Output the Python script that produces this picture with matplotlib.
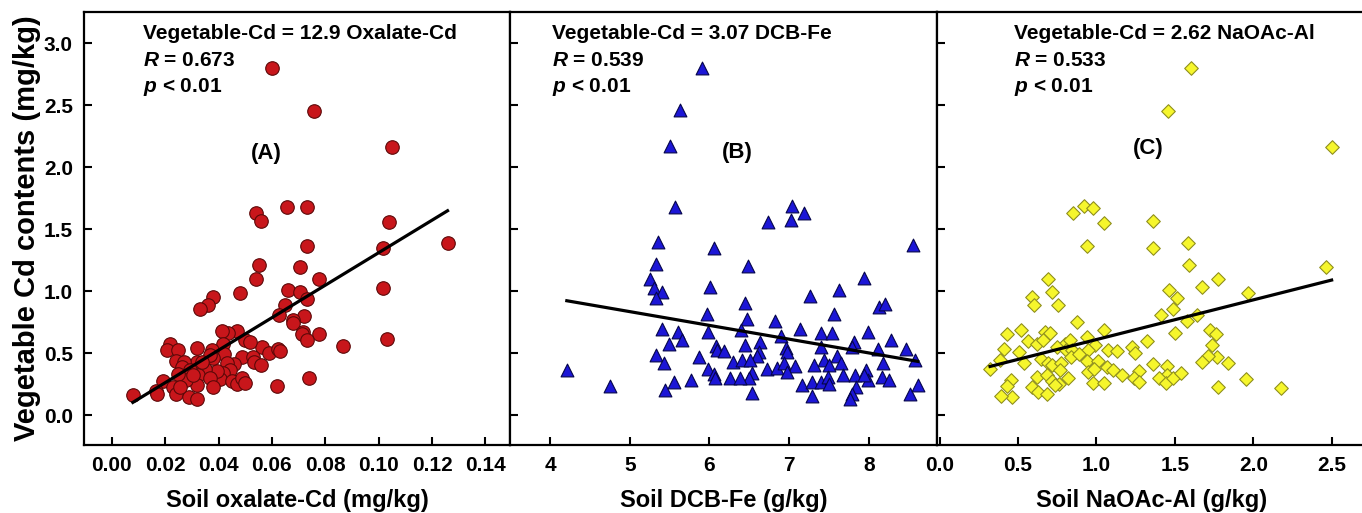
import matplotlib
matplotlib.use('Agg')
import matplotlib.pyplot as plt
import numpy as np

plt.rcParams['font.family'] = ['Liberation Sans', 'DejaVu Sans']
plt.rcParams['font.weight'] = 'bold'
plt.rcParams['mathtext.fontset'] = 'custom'
plt.rcParams['mathtext.it'] = 'Liberation Sans:italic:bold'
plt.rcParams['mathtext.rm'] = 'Liberation Sans:bold'

# panel A: soil oxalate-Cd (mg/kg) vs vegetable Cd (mg/kg)
oxalate_cd = [0.0600, 0.0759, 0.1049, 0.0539, 0.0559, 0.0658, 0.0730, 0.1040, 0.0730, 0.1017, 0.1258,
              0.0552, 0.0539, 0.0705, 0.0778, 0.0481, 0.0381, 0.0360, 0.0331, 0.0659, 0.0705, 0.0730,
              0.0649, 0.0628, 0.0720, 0.0678, 0.0680, 0.1017, 0.1030, 0.0778, 0.0718, 0.0712, 0.0730,
              0.0868, 0.0739, 0.0618, 0.0562, 0.0589, 0.0622, 0.0630, 0.0499, 0.0518, 0.0468, 0.0434,
              0.0414, 0.0418, 0.0421, 0.0489, 0.0528, 0.0533, 0.0559, 0.0458, 0.0431, 0.0443, 0.0418,
              0.0406, 0.0393, 0.0375, 0.0381, 0.0368, 0.0318, 0.0318, 0.0350, 0.0324, 0.0318, 0.0368,
              0.0378, 0.0449, 0.0468, 0.0489, 0.0499, 0.0218, 0.0208, 0.0250, 0.0241, 0.0271, 0.0262,
              0.0293, 0.0278, 0.0250, 0.0191, 0.0228, 0.0241, 0.0166, 0.0171, 0.0079, 0.0291, 0.0321,
              0.0256, 0.0306, 0.0337]
veg_cd_a = [2.800, 2.454, 2.164, 1.626, 1.567, 1.680, 1.675, 1.556, 1.366, 1.344, 1.392,
            1.210, 1.094, 1.191, 1.094, 0.989, 0.954, 0.887, 0.855, 1.008, 0.995, 0.933,
            0.887, 0.806, 0.801, 0.766, 0.745, 1.027, 0.618, 0.653, 0.672, 0.653, 0.605,
            0.559, 0.296, 0.237, 0.551, 0.505, 0.530, 0.519, 0.605, 0.591, 0.677, 0.664,
            0.677, 0.578, 0.497, 0.470, 0.470, 0.430, 0.403, 0.411, 0.422, 0.368, 0.341,
            0.288, 0.358, 0.524, 0.465, 0.484, 0.538, 0.430, 0.376, 0.323, 0.242, 0.296,
            0.228, 0.274, 0.255, 0.301, 0.261, 0.573, 0.524, 0.524, 0.435, 0.430, 0.390,
            0.363, 0.282, 0.336, 0.274, 0.228, 0.175, 0.196, 0.169, 0.167, 0.148, 0.129,
            0.228, 0.323, 0.430]

# panel B: soil DCB-Fe (g/kg)
dcb_fe = [5.908, 5.627, 5.509, 5.572, 7.040, 7.187, 7.019, 6.738, 5.354, 6.055, 8.558,
          5.329, 6.482, 5.249, 5.300, 5.405, 5.333, 6.004, 7.933, 7.627, 7.258, 8.130,
          8.205, 6.440, 6.474, 5.971, 7.564, 6.818, 5.405, 5.606, 5.656, 5.488, 5.983,
          6.390, 6.445, 6.088, 6.096, 6.180, 6.633, 6.620, 6.600, 6.893, 6.956, 6.977,
          7.132, 7.405, 7.543, 7.396, 7.983, 8.277, 7.815, 7.794, 8.109, 8.465, 8.583,
          8.172, 7.606, 7.648, 7.438, 7.501, 7.312, 5.866, 5.329, 5.426, 5.983, 6.054,
          6.075, 6.298, 6.411, 6.507, 6.537, 6.495, 6.256, 6.382, 6.725, 6.843, 6.935,
          7.073, 6.969, 4.210, 4.746, 5.447, 5.551, 5.774, 6.528, 7.166, 7.283, 7.291,
          7.396, 7.488, 7.501, 7.677, 7.828, 7.962, 7.983, 7.836, 7.794, 7.765, 8.164,
          8.247, 8.520, 8.612, 7.941]
veg_cd_b = [2.796, 2.460, 2.172, 1.680, 1.685, 1.632, 1.573, 1.559, 1.398, 1.344, 1.376,
            1.218, 1.202, 1.094, 1.022, 0.995, 0.941, 1.030, 1.102, 1.008, 0.960, 0.874,
            0.895, 0.901, 0.774, 0.812, 0.812, 0.758, 0.691, 0.667, 0.610, 0.573, 0.672,
            0.685, 0.570, 0.556, 0.524, 0.516, 0.591, 0.511, 0.476, 0.637, 0.538, 0.511,
            0.694, 0.659, 0.659, 0.551, 0.672, 0.610, 0.591, 0.551, 0.530, 0.530, 0.444,
            0.417, 0.476, 0.417, 0.444, 0.403, 0.403, 0.470, 0.484, 0.417, 0.371, 0.336,
            0.296, 0.430, 0.444, 0.444, 0.341, 0.296, 0.304, 0.304, 0.376, 0.384, 0.417,
            0.395, 0.349, 0.363, 0.234, 0.202, 0.269, 0.282, 0.180, 0.242, 0.156, 0.269,
            0.269, 0.309, 0.255, 0.323, 0.323, 0.368, 0.282, 0.228, 0.175, 0.134, 0.309,
            0.282, 0.169, 0.242, 0.323]

# panel C: soil NaOAc-Al (g/kg)
naoac_al = [1.600, 1.457, 2.498, 0.852, 0.920, 0.980, 1.050, 1.362, 0.942, 1.358, 1.585,
            1.589, 2.460, 0.689, 1.776, 1.670, 1.464, 0.719, 1.967, 0.587, 1.511, 0.601,
            0.757, 1.490, 1.411, 1.638, 1.574, 0.874, 0.519, 0.428, 0.672, 0.704, 1.048,
            1.500, 1.723, 1.761, 0.942, 0.562, 0.619, 0.662, 1.324, 0.800, 0.831, 0.990,
            0.413, 0.507, 0.746, 0.804, 0.842, 0.948, 1.075, 1.128, 1.224, 1.246, 1.734,
            1.766, 1.708, 1.670, 1.840, 0.385, 0.322, 0.540, 0.647, 0.689, 0.719, 0.774,
            0.768, 0.838, 0.891, 0.937, 0.948, 1.012, 0.986, 1.065, 1.108, 1.160, 1.271,
            1.239, 1.273, 1.362, 1.447, 1.447, 1.398, 1.443, 1.485, 1.536, 0.456, 0.428,
            0.460, 0.392, 0.591, 0.619, 0.630, 0.683, 0.683, 0.714, 0.761, 0.816, 0.980,
            1.048, 1.772, 1.950, 2.173, 0.736]
veg_cd_c = [2.796, 2.454, 2.164, 1.626, 1.688, 1.672, 1.551, 1.567, 1.363, 1.344, 1.392,
            1.210, 1.191, 1.094, 1.094, 1.030, 1.008, 0.995, 0.987, 0.954, 0.941, 0.887,
            0.887, 0.860, 0.806, 0.806, 0.761, 0.753, 0.685, 0.651, 0.672, 0.659, 0.685,
            0.659, 0.685, 0.651, 0.632, 0.599, 0.578, 0.605, 0.599, 0.578, 0.610, 0.565,
            0.530, 0.511, 0.551, 0.524, 0.524, 0.524, 0.524, 0.519, 0.551, 0.503, 0.565,
            0.470, 0.476, 0.430, 0.417, 0.449, 0.376, 0.417, 0.457, 0.417, 0.403, 0.422,
            0.363, 0.470, 0.497, 0.438, 0.349, 0.438, 0.376, 0.390, 0.368, 0.323, 0.358,
            0.296, 0.269, 0.409, 0.395, 0.323, 0.296, 0.261, 0.301, 0.341, 0.282, 0.234,
            0.148, 0.153, 0.228, 0.309, 0.188, 0.175, 0.323, 0.274, 0.255, 0.301, 0.261,
            0.261, 0.228, 0.288, 0.220, 0.242]

# fitted lines (slope, intercept)
fit_a = (13.1, 0.0)
fit_b = (-0.111, 1.39)
fit_c = (0.32, 0.29)

equations = ['Vegetable-Cd = 12.9 Oxalate-Cd',
             'Vegetable-Cd = 3.07 DCB-Fe',
             'Vegetable-Cd = 2.62 NaOAc-Al']
r_values = ['0.673', '0.539', '0.533']
panel_tags = ['(A)', '(B)', '(C)']
x_labels = ['Soil oxalate-Cd (mg/kg)', 'Soil DCB-Fe (g/kg)', 'Soil NaOAc-Al (g/kg)']

W, H = 1362, 513
fig = plt.figure(figsize=(W / 100, H / 100), dpi=100)


def px_axes(x0, x1, y0=12, y1=445):
    return fig.add_axes([x0 / W, 1 - y1 / H, (x1 - x0) / W, (y1 - y0) / H])


axA = px_axes(84, 510)
axB = px_axes(510, 937)
axC = px_axes(937, 1366)

panels = [
    (axA, oxalate_cd, veg_cd_a, fit_a, 'o', 95, '#c8161b', '#5c0808', (-0.0104, 0.1492),
     np.arange(0, 0.141, 0.02), '%.2f', 0.138, (0.058, 2.11)),
    (axB, dcb_fe, veg_cd_b, fit_b, '^', 85, '#1c16d6', '#05054a', (3.497, 8.855),
     [4, 5, 6, 7, 8], '%d', 0.098, (6.35, 2.12)),
    (axC, naoac_al, veg_cd_c, fit_c, 'D', 48, '#f6f62c', '#8f8f1e', (-0.016, 2.717),
     np.arange(0, 2.51, 0.5), '%.1f', 0.179, (1.33, 2.15)),
]

for i, (ax, xs, ys, fit, mk, sz, fc, ec, xlim, xt, fmt, tx, tag_pos) in enumerate(panels):
    ax.scatter(xs, ys, marker=mk, s=sz, facecolor=fc, edgecolor=ec, linewidth=0.8, zorder=3)
    xx = np.array([min(xs), max(xs)])
    ax.plot(xx, fit[0] * xx + fit[1], color='black', lw=2.3, zorder=4)
    ax.set_xlim(*xlim)
    ax.set_ylim(-0.24, 3.25)
    ax.set_xticks(xt)
    ax.set_xticklabels([fmt % v for v in xt])
    ax.set_yticks(np.arange(0, 3.01, 0.5))
    ax.tick_params(direction='in', length=6, width=1.5, labelsize=15, pad=8)
    if i > 0:
        ax.tick_params(axis='y', labelleft=False)
    else:
        ax.set_yticklabels(['%.1f' % v for v in np.arange(0, 3.01, 0.5)])
    for sp in ax.spines.values():
        sp.set_linewidth(1.6)
    ax.set_xlabel(x_labels[i], fontsize=17, fontweight='bold', labelpad=10)
    ax.text(tx, 0.9515, equations[i], transform=ax.transAxes, fontsize=15,
            fontweight='bold', va='center', ha='left')
    ax.text(tx, 0.889, r'$R$ = ' + r_values[i], transform=ax.transAxes, fontsize=15,
            fontweight='bold', va='center', ha='left')
    ax.text(tx, 0.827, r'$p$ < 0.01', transform=ax.transAxes, fontsize=15,
            fontweight='bold', va='center', ha='left')
    ax.text(tag_pos[0], tag_pos[1], panel_tags[i], fontsize=16, fontweight='bold',
            ha='center', va='center')

axA.set_ylabel('Vegetable Cd contents (mg/kg)', fontsize=21, fontweight='bold')
axA.yaxis.set_label_coords(-0.1, 0.5)

fig.savefig('out.png', dpi=100)
